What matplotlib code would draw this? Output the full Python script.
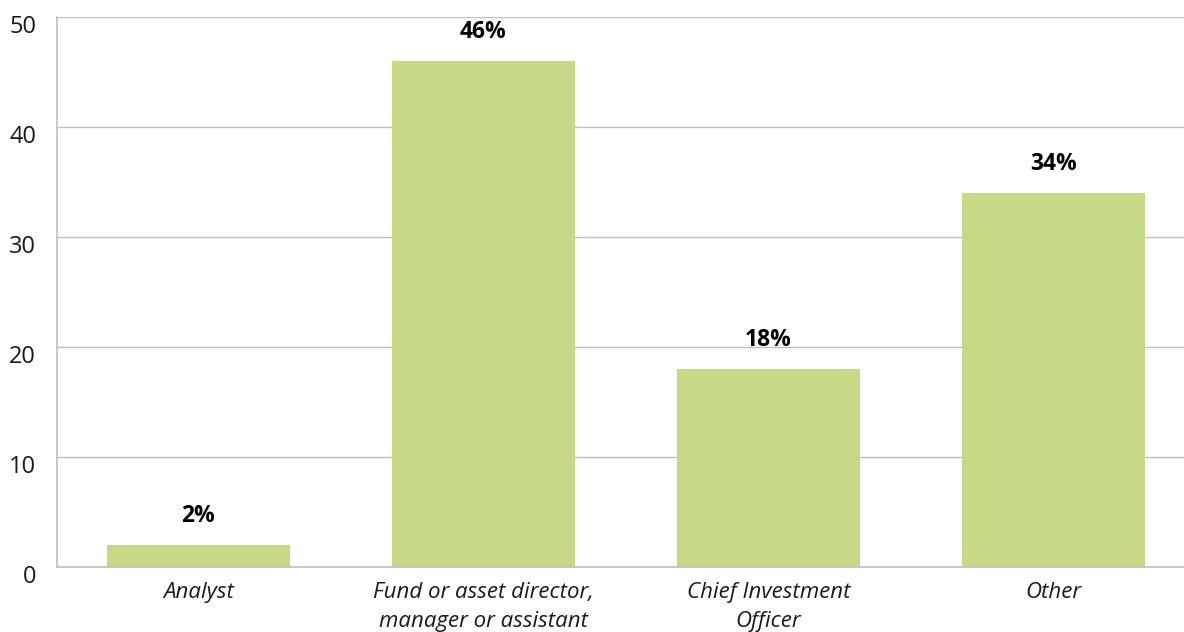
import matplotlib
matplotlib.use("Agg")
import matplotlib.pyplot as plt
import matplotlib.transforms as mtransforms

plt.rcParams['font.family'] = ['Open Sans', 'DejaVu Sans']

roles = ['Analyst', 'Fund or asset director,\nmanager or assistant',
         'Chief Investment\nOfficer', 'Other']
shares = [2, 46, 18, 34]
yticks = [0, 10, 20, 30, 40, 50]

bar_color = '#c5d987'
grid_color = '#bfbfbf'

fig = plt.figure(figsize=(11.84, 6.32), dpi=100)
ax = fig.add_axes([57 / 1184, 65 / 632, 1127 / 1184, 550 / 632])

x = range(len(roles))
bars = ax.bar(x, shares, width=0.642, color=bar_color, zorder=2)

for b, v in zip(bars, shares):
    ax.annotate(f'{v}%', (b.get_x() + b.get_width() / 2, v),
                xytext=(0, 21), textcoords='offset points',
                ha='center', va='center', fontsize=16.5, fontweight='bold',
                color='black')

ax.set_xlim(-0.4965, 3.458)
ax.set_ylim(0, 50)
ax.set_yticks(yticks)
ax.yaxis.grid(True, color=grid_color, linewidth=1, zorder=0)
ax.set_axisbelow(True)

ax.set_xticks(list(x))
ax.set_xticklabels(roles, fontsize=16, style='italic', color='#1a1a1a',
                   linespacing=1.5)
ax.tick_params(axis='x', length=0, pad=11)
ax.tick_params(axis='y', length=0, pad=15, labelsize=17, labelcolor='#1a1a1a')

# y labels sit a little below their gridlines
shift = mtransforms.ScaledTranslation(0, -7 / 100, fig.dpi_scale_trans)
for lbl in ax.get_yticklabels():
    lbl.set_transform(lbl.get_transform() + shift)

for s in ['top', 'right']:
    ax.spines[s].set_visible(False)
for s in ['left', 'bottom']:
    ax.spines[s].set_color(grid_color)
    ax.spines[s].set_linewidth(1.2)

fig.savefig('out.png', dpi=100)
